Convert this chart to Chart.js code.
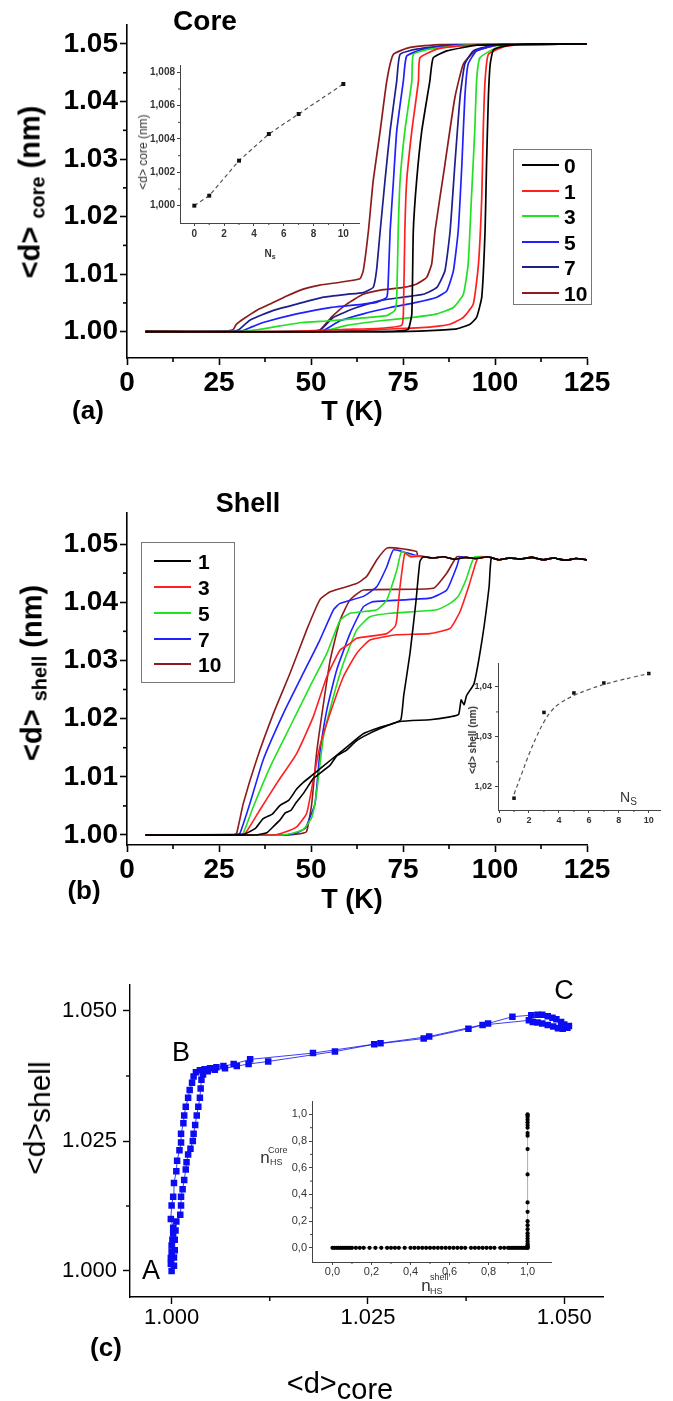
<!DOCTYPE html>
<html><head><meta charset="utf-8">
<script src="https://cdn.jsdelivr.net/npm/chart.js@4.4.1/dist/chart.umd.min.js"></script>
<style>
html,body{margin:0;padding:0;background:#fff}
body{width:673px;height:1401px;position:relative;overflow:hidden;font-family:'Liberation Sans',Arial,sans-serif;color:#000}
canvas{position:absolute}
.t{position:absolute;white-space:nowrap;line-height:1;transform:translate(-50%,-50%)}
.r{transform:translate(-50%,-50%) rotate(-90deg)}
.b{font-weight:bold}
.l{position:absolute;white-space:nowrap;line-height:1;transform:translate(0,-50%)}
.leg{position:absolute;border:1px solid #777;box-sizing:border-box}
.ll{position:absolute;height:2px}
</style></head><body>
<canvas id="cA" width="673" height="430" style="left:0;top:0"></canvas>
<canvas id="cAi" width="250" height="215" style="left:130px;top:55px"></canvas>
<canvas id="cB" width="673" height="480" style="left:0;top:440px"></canvas>
<canvas id="cBi" width="218" height="180" style="left:455px;top:650px"></canvas>
<canvas id="cC" width="673" height="471" style="left:0;top:930px"></canvas>
<canvas id="cCi" width="360" height="225" style="left:240px;top:1091px"></canvas>

<div class="t b" style="left:205px;top:21px;font-size:28px">Core</div>
<div class="t b" style="left:88px;top:410px;font-size:26px">(a)</div>
<div class="t b" style="left:352px;top:411px;font-size:27px">T (K)</div>
<div class="t b r" style="left:30px;top:192px;font-size:29px">&lt;d&gt; <span style="font-size:20px;position:relative;top:5px">core</span> (nm)</div>
<div class="t r" style="left:143px;top:152px;font-size:12px;color:#333">&lt;d&gt; core (nm)</div>
<div class="t b" style="left:270px;top:254px;font-size:10px;color:#333">N<span style="font-size:7px;position:relative;top:2px">s</span></div>

<div class="t b" style="left:248px;top:503px;font-size:27px">Shell</div>
<div class="t b" style="left:84px;top:890px;font-size:26px">(b)</div>
<div class="t b" style="left:352px;top:899px;font-size:27px">T (K)</div>
<div class="t b r" style="left:32px;top:673px;font-size:29px">&lt;d&gt; <span style="font-size:20px;position:relative;top:5px">shell</span> (nm)</div>
<div class="t b r" style="left:473px;top:740px;font-size:10px;color:#333">&lt;d&gt; shell (nm)</div>
<div class="l" style="left:620px;top:797px;font-size:14px;color:#333">N<span style="font-size:10px;position:relative;top:3px">S</span></div>

<div class="t r" style="left:35px;top:1118px;font-size:30px">&lt;d&gt;<span style="position:relative;top:5px">shell</span></div>
<div class="t" style="left:340px;top:1383px;font-size:29px">&lt;d&gt;<span style="position:relative;top:6px">core</span></div>
<div class="t b" style="left:106px;top:1347px;font-size:26px">(c)</div>
<div class="t" style="left:151px;top:1270px;font-size:27px">A</div>
<div class="t" style="left:181px;top:1052px;font-size:27px">B</div>
<div class="t" style="left:564px;top:990px;font-size:27px">C</div>
<div class="t" style="left:265px;top:1157px;font-size:17px;color:#333">n</div>
<div class="l" style="left:268px;top:1150px;font-size:9px;color:#333">Core</div>
<div class="l" style="left:270px;top:1162px;font-size:9px;color:#333">HS</div>
<div class="t" style="left:426px;top:1285px;font-size:17px;color:#333">n</div>
<div class="l" style="left:430px;top:1277px;font-size:9px;color:#333">shell</div>
<div class="l" style="left:430px;top:1291px;font-size:9px;color:#333">HS</div>

<script>
// ---------- tick values / labels ----------
const T_TICKS = [0,25,50,75,100,125];
const T_LABELS = ['0','25','50','75','100','125'];
const T_MINOR = [12.5,37.5,62.5,87.5,112.5];
const D_TICKS = [1.00,1.01,1.02,1.03,1.04,1.05];
const D_LABELS = ['1.00','1.01','1.02','1.03','1.04','1.05'];
const D_MINOR = [1.005,1.015,1.025,1.035,1.045];
const NS_TICKS = [0,2,4,6,8,10];
const NS_LABELS = ['0','2','4','6','8','10'];
const NS_MINOR = [1,3,5,7,9];
const IA_TICKS = [1.000,1.002,1.004,1.006,1.008];
const IA_LABELS = ['1,000','1,002','1,004','1,006','1,008'];
const IA_MINOR = [1.001,1.003,1.005,1.007];
const IB_TICKS = [1.02,1.03,1.04];
const IB_LABELS = ['1,02','1,03','1,04'];
const IB_MINOR = [1.025,1.035];
const C_TICKS = [1.000,1.025,1.050];
const C_LABELS = ['1.000','1.025','1.050'];
const C_MINOR = [1.0125,1.0375];
const IC_TICKS = [0,0.2,0.4,0.6,0.8,1.0];
const IC_LABELS = ['0,0','0,2','0,4','0,6','0,8','1,0'];
const IC_MINOR = [0.1,0.3,0.5,0.7,0.9];

// ---------- series names / colours ----------
const CORE_SERIES = ['0','1','3','5','7','10'];
const CORE_COLORS = {'0':'#000000','1':'#ff1f1f','3':'#22e022','5':'#1f1fff','7':'#1e1e8c','10':'#8c1c1c'};
const SHELL_SERIES = ['1','3','5','7','10'];
const SHELL_COLORS = {'1':'#000000','3':'#ff1f1f','5':'#22e022','7':'#1f1fff','10':'#8c1c1c'};

// ---------- panel (a): <d>core vs T, heating and cooling branches [T, d] ----------
const coreHeat0 = [[5,1.0000],[73,1.0000],[82.3,1.0002],[89.6,1.0005],[93.2,1.0013],[95,1.0025],[96.4,1.0060],[97.3,1.0175],[97.7,1.0291],[98.2,1.0407],[98.7,1.0465],[99.6,1.0490],[103.2,1.0497],[108,1.0500],[125,1.0500]];
const coreCool0 = [[125,1.0500],[95,1.0498],[91.4,1.0494],[86.9,1.0488],[83.2,1.0476],[82.3,1.0436],[80.1,1.0349],[78.7,1.0262],[77.8,1.0175],[77.4,1.0031],[76.5,1.0005],[75.1,1.0002],[70,1.0000],[5,1.0000]];
const coreHeat1 = [[5,1.0000],[55,1.0000],[68.8,1.0004],[82.3,1.0008],[87.8,1.0013],[91.4,1.0025],[94.1,1.0048],[95.5,1.0117],[96.4,1.0233],[96.8,1.0349],[97.3,1.0436],[98.2,1.0482],[102.3,1.0495],[108,1.0500],[125,1.0500]];
const coreCool1 = [[125,1.0500],[95,1.0498],[88,1.0495],[84.2,1.0491],[79.6,1.0476],[79.2,1.0436],[77.4,1.0349],[76.0,1.0262],[75.5,1.0175],[75.1,1.0031],[74.6,1.0011],[68.8,1.0006],[59.7,1.0004],[50.6,1.0002],[41.6,1.0000],[5,1.0000]];
const coreHeat3 = [[5,1.0000],[50,1.0000],[54.3,1.0002],[59.7,1.0011],[68.8,1.0019],[77.8,1.0025],[84.2,1.0031],[88.7,1.0042],[91.4,1.0065],[92.7,1.0117],[93.6,1.0233],[94.5,1.0349],[95.0,1.0436],[95.9,1.0476],[100.5,1.0494],[106,1.0500],[125,1.0500]];
const coreCool3 = [[125,1.0500],[92,1.0498],[82.3,1.0491],[77.8,1.0482],[77.4,1.0436],[75.5,1.0349],[74.2,1.0262],[73.7,1.0175],[73.3,1.0060],[72.8,1.0037],[70.6,1.0028],[64.2,1.0024],[55.2,1.0019],[47.5,1.0016],[41.6,1.0010],[37,1.0005],[33.4,1.0002],[30,1.0000],[5,1.0000]];
const coreHeat5 = [[5,1.0000],[50,1.0000],[53.3,1.0002],[57.9,1.0019],[64.2,1.0031],[71.5,1.0042],[78.7,1.0051],[84.2,1.0060],[86.9,1.0071],[88.7,1.0106],[90.0,1.0175],[91.0,1.0291],[91.8,1.0407],[92.7,1.0465],[95.0,1.0488],[99.6,1.0497],[105,1.0500],[125,1.0500]];
const coreCool5 = [[125,1.0500],[90,1.0498],[80.5,1.0491],[76.0,1.0479],[75.1,1.0436],[73.3,1.0349],[72.4,1.0262],[71.5,1.0175],[71.0,1.0089],[70.6,1.0060],[67.8,1.0051],[64.2,1.0048],[55.2,1.0042],[46.1,1.0031],[37,1.0016],[33.4,1.0007],[31.6,1.0002],[29,1.0000],[5,1.0000]];
const coreHeat7 = [[5,1.0000],[49,1.0000],[52.4,1.0002],[56.1,1.0025],[62.4,1.0042],[68.8,1.0054],[75.1,1.0060],[80.5,1.0065],[84.2,1.0077],[86.4,1.0106],[87.8,1.0175],[89.1,1.0291],[90.5,1.0407],[91.8,1.0465],[94.1,1.0488],[98.7,1.0497],[104,1.0500],[125,1.0500]];
const coreCool7 = [[125,1.0500],[88,1.0498],[78.7,1.0491],[74.2,1.0482],[73.3,1.0436],[71.5,1.0349],[70.1,1.0262],[68.8,1.0175],[67.8,1.0106],[66.9,1.0077],[64.2,1.0068],[59.7,1.0065],[53.4,1.0060],[46.1,1.0048],[39.8,1.0037],[33.4,1.0020],[30.7,1.0005],[29.8,1.0002],[28,1.0000],[5,1.0000]];
const coreHeat10 = [[5,1.0000],[48,1.0000],[52.4,1.0003],[55.5,1.0025],[59.7,1.0048],[64.2,1.0065],[69.6,1.0073],[75.1,1.0077],[78.7,1.0083],[81.4,1.0094],[82.8,1.0118],[83.7,1.0175],[86.4,1.0291],[89.1,1.0407],[91.4,1.0465],[94.5,1.0487],[100,1.0497],[106,1.0500],[125,1.0500]];
const coreCool10 = [[125,1.0500],[85,1.0499],[76.9,1.0494],[72.4,1.0482],[70.6,1.0436],[68.8,1.0349],[66.9,1.0262],[65.6,1.0175],[64.2,1.0106],[63.3,1.0092],[57.9,1.0086],[52.4,1.0081],[47.9,1.0074],[43.4,1.0062],[38.9,1.0048],[35.2,1.0037],[31.6,1.0022],[29.6,1.0012],[28.9,1.0004],[27,1.0001],[5,1.0000]];

// inset (a): <d>core plateau vs Ns
const IA_N = [0,1,3,5,7,10];
const IA_D = [1.0000,1.0006,1.0027,1.0043,1.0055,1.0073];

// ---------- panel (b): <d>shell vs T ----------
const SHELL_TOP_T = [80,83,86,89,92,95,98,101,104,107,110,113,116,119,122,125];
const SHELL_TOP_V = [1.0479,1.0476,1.0478,1.0474,1.0477,1.0475,1.0478,1.0473,1.0476,1.0474,1.0477,1.0473,1.0476,1.0472,1.0475,1.0473];
const shellHeat1 = [[5,1.0000],[35,1.0000],[38,1.0004],[40,1.0016],[41.6,1.0026],[43,1.0038],[44.5,1.0042],[46.1,1.0057],[48,1.0072],[50.6,1.0097],[52,1.0104],[55.2,1.0120],[57,1.0136],[59.7,1.0146],[62,1.0160],[64.2,1.0169],[68.8,1.0183],[74.2,1.0195],[82.3,1.0198],[87.8,1.0203],[90.1,1.0207],[90.8,1.0232],[91.6,1.0224],[92.3,1.0240],[94.3,1.0260],[96.6,1.0340],[98.4,1.0427],[99.0,1.0476]];
const shellCool1 = [[80.5,1.0478],[79.6,1.0470],[78.5,1.0400],[76.9,1.0312],[75.2,1.0240],[74.4,1.0198],[72,1.0191],[68.8,1.0185],[64.2,1.0174],[59.7,1.0151],[55.2,1.0128],[50.6,1.0104],[48,1.0091],[46.1,1.0079],[44,1.0060],[41.6,1.0051],[39.5,1.0036],[37,1.0028],[35,1.0012],[33.4,1.0006],[31.6,1.0001],[5,1.0000]];
const shellHeat3 = [[5,1.0000],[40,1.0000],[43,1.0005],[46.1,1.0014],[48.8,1.0037],[50.6,1.0094],[52.4,1.0152],[55.2,1.0209],[58.8,1.0272],[62.4,1.0312],[66,1.0335],[73.3,1.0344],[82.3,1.0346],[87.8,1.0355],[90.5,1.0384],[93,1.0430],[94.5,1.0462],[95.4,1.0476]];
const shellCool3 = [[77,1.0478],[75.5,1.0484],[74.2,1.0427],[73.3,1.0370],[72.8,1.0358],[70.6,1.0346],[62.4,1.0338],[60.6,1.0329],[57.9,1.0318],[54.3,1.0272],[50.6,1.0203],[46.1,1.0140],[40.7,1.0089],[36.1,1.0043],[32.5,1.0006],[31.5,1.0000],[5,1.0000]];
const shellHeat5 = [[5,1.0000],[42,1.0000],[45,1.0003],[48,1.0010],[50.2,1.0030],[51.5,1.0072],[53.4,1.0169],[56.1,1.0238],[58.8,1.0295],[62.4,1.0352],[66,1.0375],[71.5,1.0381],[84.2,1.0387],[87.8,1.0398],[90,1.0410],[92.2,1.0440],[93.5,1.0465],[94.5,1.0478]];
const shellCool5 = [[77,1.0480],[74.6,1.0487],[73.3,1.0455],[70.6,1.0404],[67.9,1.0387],[60.6,1.0381],[57.9,1.0369],[54.3,1.0312],[49.7,1.0255],[44.3,1.0186],[38.9,1.0117],[34.3,1.0048],[31.6,1.0003],[30.5,1.0000],[5,1.0000]];
const shellHeat7 = [[5,1.0000],[43,1.0000],[46,1.0003],[48.5,1.0012],[49.7,1.0030],[51.1,1.0054],[52.4,1.0140],[54.3,1.0215],[57,1.0284],[60.6,1.0346],[64.2,1.0392],[66.9,1.0401],[82.3,1.0407],[86.9,1.0421],[89.6,1.0461],[90.5,1.0478]];
const shellCool7 = [[78,1.0481],[76,1.0485],[72.4,1.0490],[70.6,1.0461],[67.9,1.0427],[64.2,1.0410],[57.9,1.0398],[56.1,1.0387],[52.4,1.0335],[47.9,1.0278],[42.5,1.0209],[37,1.0129],[33.4,1.0054],[30.7,1.0003],[29.8,1.0000],[5,1.0000]];
const shellHeat10 = [[5,1.0000],[44,1.0000],[47,1.0002],[48.8,1.0006],[50.2,1.0054],[51.5,1.0140],[53.4,1.0226],[55.2,1.0300],[57.9,1.0369],[60.6,1.0404],[64.2,1.0421],[83.2,1.0424],[86.9,1.0450],[89.6,1.0478]];
const shellCool10 = [[79,1.0480],[78.7,1.0487],[73.3,1.0493],[70.6,1.0493],[67.9,1.0473],[65.1,1.0444],[62.4,1.0432],[55.2,1.0418],[52.4,1.0404],[48.8,1.0352],[44.3,1.0278],[39.8,1.0209],[35.2,1.0129],[31.6,1.0054],[29.8,1.0003],[29,1.0000],[5,1.0000]];

// inset (b)
const IB_N = [1,3,5,7,10];
const IB_D = [1.0177,1.0349,1.0388,1.0408,1.0427];
const IB_FIT_N = [1,1.5,2,2.5,3,3.5,4,5,6,7,8,9,10];
const IB_FIT_D = [1.0185,1.0225,1.0265,1.0300,1.0330,1.0352,1.0366,1.0383,1.0395,1.0405,1.0413,1.0420,1.0427];

// ---------- panel (c): <d>shell vs <d>core [dcore, dshell] ----------
const cBranch1 = [[1.0000,1.0000],[0.9999,1.0014],[0.9999,1.0025],[1.0000,1.0037],[1.0000,1.0049],[1.0001,1.0060],[1.0002,1.0072],[1.0002,1.0083],[0.9999,1.0100],[1.0000,1.0126],[1.0002,1.0143],[1.0003,1.0169],[1.0006,1.0192],[1.0007,1.0212],[1.0010,1.0232],[1.0012,1.0247],[1.0012,1.0264],[1.0015,1.0284],[1.0016,1.0299],[1.0018,1.0316],[1.0021,1.0333],[1.0023,1.0348],[1.0026,1.0362],[1.0028,1.0374],[1.0031,1.0382],[1.0036,1.0386],[1.0042,1.0388],[1.0049,1.0390],[1.0057,1.0392],[1.0066,1.0394],[1.0079,1.0398],[1.0100,1.0407],[1.0180,1.0419],[1.0266,1.0438],[1.0328,1.0451],[1.0403,1.0476],[1.0434,1.0489],[1.0458,1.0492],[1.0466,1.0493],[1.0472,1.0493],[1.0479,1.0490],[1.0485,1.0487],[1.0490,1.0484],[1.0496,1.0479],[1.0500,1.0474],[1.0503,1.0470]];
const cBranch2 = [[1.0003,1.0010],[1.0003,1.0026],[1.0004,1.0040],[1.0004,1.0060],[1.0005,1.0078],[1.0006,1.0095],[1.0011,1.0108],[1.0012,1.0126],[1.0012,1.0143],[1.0014,1.0157],[1.0016,1.0175],[1.0018,1.0195],[1.0019,1.0209],[1.0021,1.0224],[1.0024,1.0235],[1.0027,1.0250],[1.0028,1.0264],[1.0030,1.0281],[1.0032,1.0299],[1.0034,1.0316],[1.0036,1.0333],[1.0037,1.0351],[1.0038,1.0368],[1.0040,1.0378],[1.0046,1.0384],[1.0055,1.0387],[1.0068,1.0390],[1.0083,1.0394],[1.0098,1.0398],[1.0123,1.0403],[1.0208,1.0422],[1.0258,1.0436],[1.0321,1.0447],[1.0378,1.0466],[1.0396,1.0473],[1.0455,1.0482],[1.0460,1.0479],[1.0466,1.0478],[1.0472,1.0476],[1.0479,1.0473],[1.0486,1.0470],[1.0492,1.0467],[1.0498,1.0466],[1.0504,1.0468],[1.0506,1.0471]];

// inset (c): n_HS core vs n_HS shell
const IC_ROW_X = [0.00,0.01,0.02,0.03,0.04,0.05,0.06,0.07,0.08,0.09,0.10,0.12,0.14,0.16,0.19,0.22,0.25,0.28,0.30,0.32,0.34,0.37,0.40,0.42,0.44,0.46,0.48,0.50,0.52,0.54,0.56,0.58,0.60,0.62,0.64,0.66,0.68,0.71,0.73,0.75,0.77,0.79,0.81,0.83,0.86,0.88,0.90,0.91,0.92,0.93,0.94,0.95,0.96,0.97,0.98,0.99,1.00];
const IC_COL_Y = [0.00,0.01,0.02,0.03,0.05,0.07,0.09,0.11,0.14,0.17,0.20,0.27,0.34,0.55,0.74,0.84,0.86,0.90,0.92,0.94,0.96,0.98,0.99,1.00];

// ---------- helpers ----------
const FAM = "'Liberation Sans', Arial, sans-serif";
Chart.defaults.font.family = FAM;

const minorPlugin = {
  id: 'minorTicks',
  afterDraw(chart, args, o) {
    const ctx = chart.ctx, ca = chart.chartArea, xs = chart.scales.x, ys = chart.scales.y;
    ctx.save();
    ctx.strokeStyle = o.color; ctx.lineWidth = o.width;
    (o.x || []).forEach(v => { const p = xs.getPixelForValue(v); ctx.beginPath(); ctx.moveTo(p, ca.bottom); ctx.lineTo(p, ca.bottom + o.len); ctx.stroke(); });
    (o.y || []).forEach(v => { const p = ys.getPixelForValue(v); ctx.beginPath(); ctx.moveTo(ca.left, p); ctx.lineTo(ca.left - o.len, p); ctx.stroke(); });
    ctx.restore();
  }
};

function mk(id, box, plot, o) {
  const scale = (min, max, ticks, labels, pad, isX) => ({
    type: 'linear', min, max,
    afterBuildTicks: s => { s.ticks = ticks.map(v => ({ value: v })); },
    afterFit: s => {
      if (isX) s.height = box.top + box.height - plot.bottom; else s.width = plot.left - box.left;
      s.paddingLeft = 0; s.paddingRight = 0; s.paddingTop = 0; s.paddingBottom = 0;
    },
    ticks: { autoSkip: false, maxRotation: 0, minRotation: 0, padding: pad, color: o.labelColor, font: o.font, callback: (v, i) => labels[i] },
    grid: { drawOnChartArea: false, drawTicks: true, tickLength: o.tl, tickColor: o.axisColor, tickWidth: o.tickW },
    border: { display: true, color: o.axisColor, width: o.axisW }
  });
  return new Chart(document.getElementById(id), {
    type: 'scatter',
    data: { datasets: o.datasets },
    options: {
      responsive: false, animation: false, devicePixelRatio: 1,
      layout: { padding: { left: 0, top: plot.top - box.top, right: box.left + box.width - plot.right, bottom: 0 } },
      plugins: { legend: { display: false }, tooltip: { enabled: false },
        minorTicks: { x: o.xMinor, y: o.yMinor, len: o.minorLen, color: o.axisColor, width: o.tickW } },
      scales: {
        x: scale(o.xMin, o.xMax, o.xTicks, o.xLabels, o.xPad, true),
        y: scale(o.yMin, o.yMax, o.yTicks, o.yLabels, o.yPad, false)
      }
    },
    plugins: [minorPlugin]
  });
}
const pts = a => a.map(p => ({ x: p[0], y: p[1] }));
const line = (a, color, w, extra) => Object.assign({ data: pts(a), showLine: true, borderColor: color, backgroundColor: color, borderWidth: w, pointRadius: 0, tension: 0.15, fill: false }, extra || {});
const topPts = SHELL_TOP_T.map((t, i) => [t, SHELL_TOP_V[i]]);
const heatTail = a => { const last = a[a.length - 1][0]; return a.concat(topPts.filter(p => p[0] > last + 1)); };
const coolHead = a => { const first = a[0][0]; return topPts.filter(p => p[0] > first + 1).reverse().concat(a); };

// ---------- panel (a) ----------
const coreData = { '0': [coreHeat0, coreCool0], '1': [coreHeat1, coreCool1], '3': [coreHeat3, coreCool3], '5': [coreHeat5, coreCool5], '7': [coreHeat7, coreCool7], '10': [coreHeat10, coreCool10] };
const dsA = [];
CORE_SERIES.forEach(k => { coreData[k].forEach(br => dsA.push(line(br, CORE_COLORS[k], 1.7))); });
const bigFont = { family: FAM, size: 28, weight: 'bold' };
mk('cA', { left: 0, top: 0, width: 673, height: 430 }, { left: 127, right: 587, top: 25, bottom: 358 }, {
  xMin: 0, xMax: 125, yMin: 0.99543, yMax: 1.0533, xTicks: T_TICKS, xLabels: T_LABELS, yTicks: D_TICKS, yLabels: D_LABELS,
  xMinor: T_MINOR, yMinor: D_MINOR, font: bigFont, labelColor: '#000', axisColor: '#000', axisW: 1.6, tickW: 1.6, tl: 7, minorLen: 4, xPad: 1, yPad: 2, datasets: dsA
});

// inset (a)
const smallBold = { family: FAM, size: 10, weight: 'bold' };
mk('cAi', { left: 130, top: 55, width: 250, height: 215 }, { left: 180, right: 359, top: 65, bottom: 223 }, {
  xMin: -0.96, xMax: 11.05, yMin: 0.99896, yMax: 1.00844, xTicks: NS_TICKS, xLabels: NS_LABELS, yTicks: IA_TICKS, yLabels: IA_LABELS,
  xMinor: NS_MINOR, yMinor: IA_MINOR, font: smallBold, labelColor: '#333', axisColor: '#444', axisW: 1, tickW: 1, tl: 3, minorLen: 2, xPad: 2, yPad: 2,
  datasets: [line(IA_N.map((n, i) => [n, IA_D[i]]), '#555', 1.2, { tension: 0, borderDash: [4, 3], pointRadius: 2.8, pointStyle: 'rect', pointBackgroundColor: '#111', pointBorderWidth: 0 })]
});

// ---------- panel (b) ----------
const shellData = { '1': [shellHeat1, shellCool1], '3': [shellHeat3, shellCool3], '5': [shellHeat5, shellCool5], '7': [shellHeat7, shellCool7], '10': [shellHeat10, shellCool10] };
const dsB = [];
SHELL_SERIES.forEach(k => { const [h, c] = shellData[k]; dsB.push(line(heatTail(h), SHELL_COLORS[k], 1.6)); dsB.push(line(coolHead(c), SHELL_COLORS[k], 1.6)); });
mk('cB', { left: 0, top: 440, width: 673, height: 480 }, { left: 127, right: 587, top: 513, bottom: 845 }, {
  xMin: 0, xMax: 125, yMin: 0.99828, yMax: 1.05533, xTicks: T_TICKS, xLabels: T_LABELS, yTicks: D_TICKS, yLabels: D_LABELS,
  xMinor: T_MINOR, yMinor: D_MINOR, font: bigFont, labelColor: '#000', axisColor: '#000', axisW: 1.6, tickW: 1.6, tl: 7, minorLen: 4, xPad: 1, yPad: 2, datasets: dsB
});

// inset (b)
mk('cBi', { left: 455, top: 650, width: 218, height: 180 }, { left: 498, right: 660, top: 663, bottom: 810 }, {
  xMin: -0.07, xMax: 10.75, yMin: 1.01533, yMax: 1.04481, xTicks: NS_TICKS, xLabels: NS_LABELS, yTicks: IB_TICKS, yLabels: IB_LABELS,
  xMinor: NS_MINOR, yMinor: IB_MINOR, font: { family: FAM, size: 9, weight: 'bold' }, labelColor: '#333', axisColor: '#444', axisW: 1, tickW: 1, tl: 3, minorLen: 2, xPad: 2.5, yPad: 3,
  datasets: [
    line(IB_FIT_N.map((n, i) => [n, IB_FIT_D[i]]), '#555', 1.2, { tension: 0.4, borderDash: [4, 3] }),
    { data: pts(IB_N.map((n, i) => [n, IB_D[i]])), showLine: false, pointRadius: 2.5, pointStyle: 'rect', backgroundColor: '#111', borderWidth: 0 }
  ]
});

// ---------- panel (c) ----------
const blue = '#0c0cf2';
mk('cC', { left: 0, top: 930, width: 673, height: 471 }, { left: 130, right: 603.5, top: 985, bottom: 1297 }, {
  xMin: 0.9947, xMax: 1.0550, yMin: 0.995, yMax: 1.055, xTicks: C_TICKS, xLabels: C_LABELS, yTicks: C_TICKS, yLabels: C_LABELS,
  xMinor: C_MINOR, yMinor: C_MINOR, font: { family: FAM, size: 22 }, labelColor: '#000', axisColor: '#000', axisW: 1.4, tickW: 1.4, tl: 7, minorLen: 4, xPad: 1, yPad: 6,
  datasets: [
    line(cBranch1, blue, 0.8, { tension: 0, pointRadius: 4.6, pointStyle: 'rect', pointBackgroundColor: blue, pointBorderWidth: 0 }),
    line(cBranch2, blue, 0.8, { tension: 0, pointRadius: 4.6, pointStyle: 'rect', pointBackgroundColor: blue, pointBorderWidth: 0 })
  ]
});

// inset (c)
const icPts = IC_ROW_X.map(x => [x, 0]).concat(IC_COL_Y.map(y => [1.0, y]));
mk('cCi', { left: 240, top: 1091, width: 360, height: 225 }, { left: 312, right: 551, top: 1101, bottom: 1262 }, {
  xMin: -0.105, xMax: 1.12, yMin: -0.106, yMax: 1.10, xTicks: IC_TICKS, xLabels: IC_LABELS, yTicks: IC_TICKS, yLabels: IC_LABELS,
  xMinor: IC_MINOR, yMinor: IC_MINOR, font: { family: FAM, size: 11 }, labelColor: '#333', axisColor: '#444', axisW: 1, tickW: 1, tl: 3, minorLen: 2, xPad: 0, yPad: 2,
  datasets: [line(icPts, '#999', 0.8, { tension: 0, pointRadius: 2.1, pointStyle: 'circle', pointBackgroundColor: '#000', pointBorderWidth: 0 })]
});

// ---------- legends (HTML) ----------
function legend(box, names, colors, x1, x2, xt, ys) {
  const b = document.createElement('div'); b.className = 'leg';
  Object.assign(b.style, { left: box[0] + 'px', top: box[1] + 'px', width: box[2] + 'px', height: box[3] + 'px' });
  document.body.appendChild(b);
  names.forEach((n, i) => {
    const l = document.createElement('div'); l.className = 'll';
    Object.assign(l.style, { left: x1 + 'px', top: (ys[i] - 1) + 'px', width: (x2 - x1) + 'px', background: colors[n] });
    document.body.appendChild(l);
    const t = document.createElement('div'); t.className = 'l b';
    Object.assign(t.style, { left: xt + 'px', top: ys[i] + 'px', fontSize: '21px' });
    t.textContent = n; document.body.appendChild(t);
  });
}
legend([513, 149, 79, 156], CORE_SERIES, CORE_COLORS, 522, 559, 564, [165, 191, 216, 242, 267, 293]);
legend([141, 542, 94, 141], SHELL_SERIES, SHELL_COLORS, 154, 191, 198, [561, 587, 613, 639, 664]);
</script>
</body></html>
